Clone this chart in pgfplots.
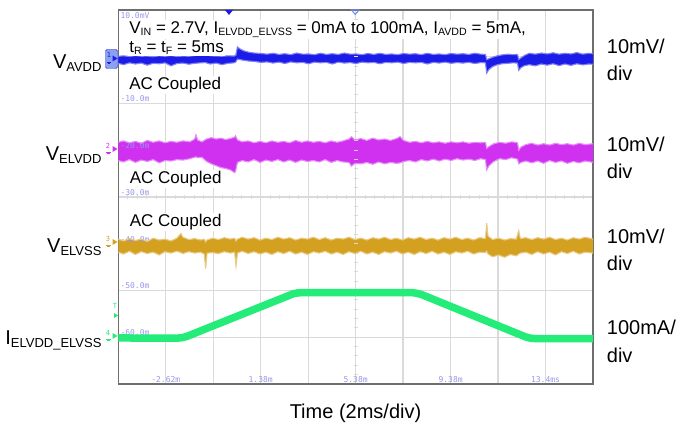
\documentclass[border=0pt]{standalone}
\usepackage{pgfplots}
\pgfplotsset{compat=1.18}
\usepackage{pgfplotstable}
\usepgfplotslibrary{fillbetween}
\usepackage{fontspec}
\setmainfont{Liberation Sans}
\newfontfamily\scopefont{DejaVu Sans Mono}

\definecolor{chA}{RGB}{28,28,232}
\definecolor{chB}{RGB}{208,48,240}
\definecolor{chC}{RGB}{212,160,32}
\definecolor{chD}{RGB}{36,236,120}
\definecolor{gridc}{RGB}{218,218,218}
\definecolor{framec}{RGB}{110,110,110}
\definecolor{scopetxt}{RGB}{150,150,235}

\tikzset{
  scopelbl/.style={font=\scopefont\fontsize{8bp}{8bp}\selectfont, text=scopetxt, inner sep=0pt},
  xtk/.style={draw=gridc, line width=1bp},
}

\newcommand{\tsub}[1]{\raisebox{-2.2bp}{\fontsize{10.6bp}{11bp}\selectfont #1}}
\newcommand{\lsub}[1]{\raisebox{-2.4bp}{\fontsize{13bp}{14bp}\selectfont #1}}

% Channel 1: V_AVDD (mV), upper and lower edge of the noise band
\pgfplotstableread{
t hi lo
-4.62 0.10 -1.40
-4.40 0.20 -1.70
-4.15 0.05 -1.30
-3.90 0.25 -1.55
-3.65 0.10 -1.35
-3.40 0.15 -1.80
-3.15 0.00 -1.40
-2.90 0.20 -1.50
-2.65 0.10 -1.30
-2.40 0.25 -1.95
-2.15 0.05 -1.45
-1.90 0.15 -1.35
-1.65 0.10 -1.60
-1.40 0.25 -1.40
-1.15 0.40 -1.30
-0.95 0.75 -1.25
-0.75 0.20 -1.55
-0.50 0.15 -1.35
-0.25 0.10 -1.70
0.00 0.20 -1.40
0.25 0.15 -1.30
0.33 0.30 -1.10
0.40 2.10 -0.50
0.50 1.70 -0.60
0.65 1.30 -0.75
0.85 1.00 -0.90
1.10 0.80 -1.00
1.40 0.70 -1.20
1.65 0.55 -1.10
1.90 0.75 -1.35
2.15 0.50 -1.15
2.40 0.65 -1.45
2.65 0.45 -1.10
2.90 0.80 -1.30
3.15 0.55 -1.20
3.40 0.60 -1.50
3.65 0.45 -1.15
3.90 0.75 -1.30
4.15 0.50 -1.20
4.40 0.65 -1.55
4.65 0.50 -1.15
4.90 0.80 -1.35
5.15 0.55 -1.25
5.40 0.60 -1.45
5.65 0.45 -1.15
5.90 0.70 -1.30
6.15 0.50 -1.20
6.40 0.75 -1.50
6.65 0.50 -1.20
6.90 0.60 -1.30
7.15 0.45 -1.15
7.40 0.70 -1.45
7.65 0.55 -1.20
7.90 0.65 -1.30
8.15 0.45 -1.20
8.40 0.75 -1.55
8.65 0.50 -1.20
8.90 0.60 -1.35
9.15 0.45 -1.15
9.40 0.70 -1.40
9.65 0.55 -1.25
9.90 0.65 -1.35
10.15 0.50 -1.20
10.40 0.75 -1.45
10.65 0.55 -1.25
10.85 0.50 -1.30
10.90 -0.60 -3.50
11.00 -0.40 -2.70
11.15 -0.10 -2.10
11.35 0.20 -1.70
11.55 0.40 -1.50
11.80 0.55 -1.40
12.00 0.45 -1.30
12.20 0.50 -1.35
12.25 -0.60 -2.90
12.35 -0.20 -2.30
12.50 0.30 -1.90
12.70 0.75 -1.70
12.95 0.55 -1.95
13.20 0.80 -1.55
13.45 0.60 -1.80
13.70 0.85 -1.50
13.95 0.55 -1.90
14.20 0.75 -1.55
14.45 0.60 -1.85
14.70 0.90 -1.50
14.95 0.55 -1.75
15.20 0.75 -1.55
15.38 0.65 -1.60
}\avdd

% Channel 2: V_ELVDD, offset to -20 mV on screen
\pgfplotstableread{
t hi lo
-4.62 -18.3 -22.2
-4.40 -18.0 -22.5
-4.15 -18.4 -22.0
-3.90 -18.1 -22.6
-3.65 -18.5 -22.1
-3.40 -17.9 -22.4
-3.15 -18.3 -22.0
-2.90 -18.0 -22.7
-2.65 -18.4 -22.2
-2.40 -18.1 -22.3
-2.15 -18.3 -22.0
-1.90 -18.0 -22.1
-1.60 -18.2 -21.8
-1.40 -17.6 -21.5
-1.35 -16.7 -21.4
-1.28 -17.8 -21.6
-1.10 -18.2 -21.5
-0.90 -17.6 -22.4
-0.70 -17.3 -22.9
-0.50 -17.6 -23.3
-0.30 -17.4 -23.7
-0.10 -17.7 -23.9
0.10 -17.5 -24.2
0.28 -17.2 -24.8
0.32 -16.9 -24.5
0.40 -17.8 -22.6
0.60 -18.2 -22.2
0.85 -18.0 -22.5
1.10 -18.4 -22.0
1.35 -18.1 -22.6
1.60 -18.4 -22.1
1.85 -18.0 -22.4
2.10 -18.3 -22.0
2.35 -18.1 -22.5
2.60 -18.4 -22.1
2.85 -17.9 -22.6
3.10 -18.3 -22.1
3.35 -18.0 -22.4
3.60 -18.3 -22.2
3.85 -18.1 -22.5
4.10 -18.4 -22.0
4.35 -18.0 -22.6
4.60 -18.3 -22.2
4.85 -18.0 -22.5
5.10 -17.6 -22.6
5.20 -17.1 -23.4
5.35 -17.8 -22.8
5.60 -17.5 -22.9
5.85 -17.9 -22.6
6.10 -17.4 -23.0
6.35 -17.8 -22.5
6.60 -17.6 -22.9
6.85 -17.9 -22.6
7.10 -17.5 -22.8
7.25 -17.1 -22.7
7.40 -17.9 -22.4
7.65 -18.3 -22.2
7.90 -18.1 -22.5
8.15 -18.4 -22.0
8.40 -18.1 -22.3
8.65 -18.4 -21.9
8.90 -18.2 -22.3
9.15 -18.5 -21.9
9.40 -18.2 -22.2
9.65 -18.4 -21.8
9.90 -18.2 -22.1
10.15 -18.5 -21.9
10.40 -18.3 -22.2
10.65 -18.4 -21.8
10.85 -18.3 -22.0
10.90 -19.6 -24.2
11.00 -19.2 -23.3
11.20 -18.6 -22.4
11.45 -18.3 -21.8
11.70 -18.5 -22.0
11.95 -18.2 -21.6
12.20 -18.4 -21.9
12.25 -20.0 -22.9
12.35 -19.3 -22.6
12.55 -18.8 -22.3
12.80 -18.5 -22.7
13.05 -18.9 -22.3
13.30 -18.6 -22.8
13.55 -18.9 -22.2
13.80 -18.5 -22.6
14.05 -18.8 -22.3
14.30 -18.6 -22.8
14.55 -18.9 -22.4
14.80 -18.5 -22.7
15.05 -18.8 -22.3
15.38 -18.6 -22.6
}\elvdd

% Channel 3: V_ELVSS, offset to -40 mV on screen
\pgfplotstableread{
t hi lo
-4.62 -39.0 -41.8
-4.40 -39.4 -42.2
-4.15 -38.9 -41.6
-3.90 -39.3 -42.3
-3.65 -39.0 -41.7
-3.40 -39.5 -42.1
-3.15 -38.8 -41.8
-2.90 -39.2 -42.4
-2.65 -39.0 -41.7
-2.40 -39.4 -42.0
-2.15 -38.8 -41.6
-1.98 -37.8 -41.9
-1.90 -38.6 -42.1
-1.65 -39.1 -41.7
-1.40 -38.9 -42.0
-1.15 -39.2 -41.8
-1.00 -39.0 -42.2
-0.94 -39.6 -45.3
-0.88 -39.2 -42.0
-0.65 -38.8 -41.9
-0.40 -39.1 -42.1
-0.15 -38.7 -41.7
0.10 -39.0 -42.0
0.28 -38.8 -41.8
0.34 -39.4 -44.8
0.40 -39.0 -42.0
0.60 -38.6 -41.6
0.85 -39.0 -42.1
1.10 -38.7 -41.7
1.35 -39.2 -42.2
1.60 -38.8 -41.8
1.85 -39.1 -42.3
2.10 -38.6 -41.7
2.35 -39.0 -42.1
2.60 -38.7 -41.6
2.85 -39.2 -42.2
3.10 -38.8 -41.8
3.35 -39.0 -42.3
3.60 -38.6 -41.7
3.85 -39.1 -42.0
4.10 -38.7 -41.6
4.35 -39.2 -42.2
4.60 -38.8 -41.8
4.85 -39.0 -42.3
5.10 -38.6 -41.7
5.35 -39.1 -42.1
5.60 -38.8 -41.6
5.85 -39.2 -42.2
6.10 -38.7 -41.8
6.35 -39.0 -42.3
6.60 -38.6 -41.7
6.85 -39.1 -42.0
7.10 -38.8 -41.6
7.35 -39.2 -42.2
7.60 -38.7 -41.8
7.85 -39.0 -42.3
8.10 -38.6 -41.7
8.35 -39.1 -42.1
8.60 -38.8 -41.6
8.85 -39.2 -42.2
9.10 -38.7 -41.8
9.35 -39.0 -42.3
9.60 -38.6 -41.7
9.85 -39.1 -42.0
10.10 -38.8 -41.6
10.35 -39.2 -42.2
10.60 -38.7 -41.8
10.85 -38.9 -41.9
10.90 -35.6 -41.6
10.96 -38.4 -42.2
11.15 -39.1 -42.8
11.40 -38.8 -42.4
11.65 -39.2 -42.9
11.90 -38.9 -42.3
12.15 -39.0 -42.6
12.25 -37.2 -42.2
12.32 -38.9 -42.0
12.55 -38.7 -41.8
12.80 -39.1 -42.3
13.05 -38.7 -41.7
13.30 -39.0 -42.2
13.55 -38.6 -41.8
13.80 -39.1 -42.4
14.05 -38.8 -41.7
14.30 -39.2 -42.1
14.55 -38.7 -41.6
14.80 -39.0 -42.2
15.05 -38.6 -41.8
15.38 -39.0 -42.0
}\elvss

% Channel 4: load current, 100 mA/div, offset to -60 on screen
\pgfplotstableread{
t v
-4.62 -60.15
-2.15 -60.20
-1.95 -60.10
-1.75 -59.85
2.75 -50.70
2.95 -50.50
3.20 -50.45
7.75 -50.45
7.95 -50.60
8.15 -50.85
12.55 -59.95
12.75 -60.20
12.95 -60.30
15.38 -60.30
}\iload

\begin{document}
\begin{tikzpicture}
\path (0,0) rectangle (696bp,431bp);
% sub-division ticks on the centre cross-hair (under the traces)
\foreach \k in {1,...,49} \draw[xtk] ({118.3bp+\k*9.494bp},232bp) -- ++(0,4bp);
\foreach \k in {1,...,39} \draw[xtk] (353.65bp,{47bp+\k*9.35bp}) -- ++(4bp,0);
\begin{axis}[
  at={(118.3bp,47bp)}, anchor=south west,
  scale only axis, width=474.7bp, height=374bp,
  xmin=-4.62, xmax=15.38, ymin=-70, ymax=10,
  xtick={-4.62,-2.62,-0.62,1.38,3.38,5.38,7.38,9.38,11.38,13.38,15.38},
  ytick={-70,-60,-50,-40,-30,-20,-10,0,10},
  xticklabels={}, yticklabels={},
  major tick length=0pt,
  grid=major,
  grid style={draw=gridc, line width=1.3bp},
  axis line style={draw=framec, line width=1.3bp},
]
% on-screen scale readouts
\node[scopelbl, anchor=north west, xshift=2bp, yshift=-2.5bp] at (axis cs:-4.62,10) {10.0mV};
\node[scopelbl, anchor=base west, xshift=2bp, yshift=1.7bp] at (axis cs:-4.62,-10) {-10.0m};
\node[scopelbl, anchor=base west, xshift=2bp, yshift=1.7bp] at (axis cs:-4.62,-20) {-20.0m};
\node[scopelbl, anchor=base west, xshift=2bp, yshift=1.7bp] at (axis cs:-4.62,-30) {-30.0m};
\node[scopelbl, anchor=base west, xshift=2bp, yshift=1.7bp] at (axis cs:-4.62,-40) {-40.0m};
\node[scopelbl, anchor=base west, xshift=2bp, yshift=1.7bp] at (axis cs:-4.62,-50) {-50.0m};
\node[scopelbl, anchor=base west, xshift=2bp, yshift=1.7bp] at (axis cs:-4.62,-60) {-60.0m};
\node[scopelbl, anchor=base, yshift=1bp] at (axis cs:-2.62,-70) {-2.62m};
\node[scopelbl, anchor=base, yshift=1bp] at (axis cs:1.38,-70) {1.38m};
\node[scopelbl, anchor=base, yshift=1bp] at (axis cs:5.38,-70) {5.38m};
\node[scopelbl, anchor=base, yshift=1bp] at (axis cs:9.38,-70) {9.38m};
\node[scopelbl, anchor=base, yshift=1bp] at (axis cs:13.38,-70) {13.4ms};
% channel 1 (band edges drawn in a lighter tint for a soft fringe)
\addplot[draw=chA!55, line width=1.1bp, name path=ahi] table[x=t, y=hi] {\avdd};
\addplot[draw=chA!55, line width=1.1bp, name path=alo] table[x=t, y=lo] {\avdd};
\addplot[fill=chA, draw=none] fill between[of=ahi and alo];
% channel 2
\addplot[draw=chB!55, line width=1.1bp, name path=bhi] table[x=t, y=hi] {\elvdd};
\addplot[draw=chB!55, line width=1.1bp, name path=blo] table[x=t, y=lo] {\elvdd};
\addplot[fill=chB, draw=none] fill between[of=bhi and blo];
% channel 3
\addplot[draw=chC!55, line width=1.1bp, name path=chi] table[x=t, y=hi] {\elvss};
\addplot[draw=chC!55, line width=1.1bp, name path=clo] table[x=t, y=lo] {\elvss};
\addplot[fill=chC, draw=none] fill between[of=chi and clo];
% channel 4
\addplot[chD, line width=7.5bp, line join=round, line cap=butt] table[x=t, y=v] {\iload};
\end{axis}

% trigger and horizontal-position markers
\fill[chA] (225bp,421bp) -- (233bp,421bp) -- (229bp,416bp) -- cycle;
\draw[draw={rgb,255:red,110;green,140;blue,240}, line width=1bp] (351.5bp,421bp) -- (359bp,421bp) -- (355.2bp,416.5bp) -- cycle;

% channel reference markers
\begin{scope}[font=\scopefont\fontsize{7bp}{7bp}\selectfont, inner sep=0pt]
\filldraw[fill={rgb,255:red,140;green,160;blue,240}, draw=chA, rounded corners=1.5bp] (105.5bp,362.5bp) rectangle (117.5bp,381.5bp);
\node[text=chA] at (109bp,376.5bp) {1};
\fill[chA] (112.5bp,375.5bp) -- (117.5bp,372.5bp) -- (112.5bp,369.5bp) -- cycle;
\draw[chA, line width=0.6bp] (106.5bp,369bp) -- (111bp,369bp) (107.5bp,367.5bp) -- (110bp,367.5bp);
\node[text=chB] at (108bp,285bp) {2};
\fill[chB] (112.5bp,285bp) -- (117.5bp,282bp) -- (112.5bp,279bp) -- cycle;
\draw[chB, line width=0.6bp] (105.5bp,279bp) -- (110.5bp,279bp) (106.5bp,277.5bp) -- (109.5bp,277.5bp);
\node[text=chC] at (108bp,192bp) {3};
\fill[chC] (112.5bp,192bp) -- (117.5bp,189bp) -- (112.5bp,186bp) -- cycle;
\draw[chC, line width=0.6bp] (105.5bp,186bp) -- (110.5bp,186bp) (106.5bp,184.5bp) -- (109.5bp,184.5bp);
\node[text=chD] at (108bp,98bp) {4};
\fill[chD] (112.5bp,98bp) -- (117.5bp,95bp) -- (112.5bp,92bp) -- cycle;
\draw[chD, line width=0.6bp] (105.5bp,92bp) -- (110.5bp,92bp) (106.5bp,90.5bp) -- (109.5bp,90.5bp);
\node[text=chD] at (115bp,125bp) {T};
\fill[chD] (114bp,118bp) -- (118bp,115.5bp) -- (114bp,113bp) -- cycle;
\end{scope}

% conditions and coupling notes
\begin{scope}[font=\fontsize{17bp}{20bp}\selectfont, inner sep=1.2bp]
\node[anchor=base west, fill=white] at (128bp,397.5bp) {V\tsub{IN} = 2.7V, I\tsub{ELVDD\_ELVSS} = 0mA to 100mA, I\tsub{AVDD} = 5mA,};
\node[anchor=base west, fill=white] at (128bp,378.3bp) {t\tsub{R} = t\tsub{F} = 5ms};
\node[anchor=base west, fill=white] at (128bp,341.7bp) {AC Coupled};
\node[anchor=base west, fill=white] at (128.5bp,247.7bp) {AC Coupled};
\node[anchor=base west, fill=white] at (128.5bp,204.3bp) {AC Coupled};
\end{scope}

% trace names
\begin{scope}[font=\fontsize{20bp}{22bp}\selectfont, inner sep=0pt]
\node[anchor=base east] at (101.7bp,362.3bp) {V\lsub{AVDD}};
\node[anchor=base east] at (101.7bp,270.3bp) {V\lsub{ELVDD}};
\node[anchor=base east] at (101.7bp,178.3bp) {V\lsub{ELVSS}};
\node[anchor=base east] at (101.7bp,86bp) {I\lsub{ELVDD\_ELVSS}};
% vertical scales
\node[anchor=base west] at (606.7bp,377.7bp) {10mV/};
\node[anchor=base west] at (606.7bp,350.3bp) {div};
\node[anchor=base west] at (606.7bp,279.3bp) {10mV/};
\node[anchor=base west] at (606.7bp,252bp) {div};
\node[anchor=base west] at (606.7bp,187.7bp) {10mV/};
\node[anchor=base west] at (606.7bp,160.3bp) {div};
\node[anchor=base west] at (606.7bp,96bp) {100mA/};
\node[anchor=base west] at (606.7bp,68.6bp) {div};
% time base
\node[anchor=base] at (355.5bp,12.7bp) {Time (2ms/div)};
\end{scope}
\end{tikzpicture}
\end{document}
